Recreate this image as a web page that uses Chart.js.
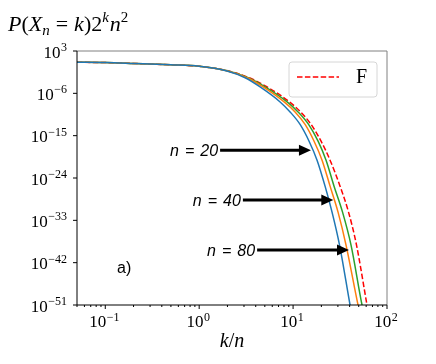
<!DOCTYPE html>
<html><head><meta charset="utf-8">
<script src="https://cdn.jsdelivr.net/npm/chart.js@4.4.1/dist/chart.umd.min.js"></script>
<style>html,body{margin:0;padding:0;background:#fff;}#wrap{width:436px;height:364px;}</style>
</head><body><div id="wrap"><canvas id="c" width="436" height="364"></canvas></div>
<script>
// ---- data ----
const yLevels = [3.98, 3.44, 2.22, 1.17, 0.564, 6.24e-2, 2.04e-3, 2.26e-5, 1.48e-8, 1.11e-10, 2.47e-13, 6.67e-17, 6.15e-21, 1.85e-26, 5.58e-32, 5.48e-39, 1e-51, 4.6e-54];
const xBlue   = [0.05, 0.1, 0.2, 0.5, 1, 1.938, 3.086, 4.457, 7.272, 9.292, 11.87, 14.80, 18.00, 21.90, 25.99, 31.24, 40.40, 42.44];
const xOrange = [0.05, 0.1, 0.2, 0.5, 1, 1.962, 3.241, 4.797, 8.023, 10.50, 13.42, 16.73, 20.35, 24.76, 30.11, 36.63, 49.14, 52.25];
const xGreen  = [0.05, 0.1, 0.2, 0.5, 1, 1.986, 3.321, 5.036, 8.636, 11.30, 14.62, 18.45, 22.44, 27.30, 33.62, 41.40, 54.20, 57.62];
const xF      = [0.05, 0.1, 0.2, 0.5, 1, 2.010, 3.404, 5.289, 9.179, 12.02, 15.54, 19.86, 24.76, 31.62, 38.94, 47.36, 61.26, 64.35];
const legendLabel = 'F';
const xTickValues = [0.1, 1, 10, 100];
const xTickExps = ['\u22121', '0', '1', '2'];
const yTickValues = [1e3, 1e-6, 1e-15, 1e-24, 1e-33, 1e-42, 1e-51];
const yTickExps = ['3', '\u22126', '\u221215', '\u221224', '\u221233', '\u221242', '\u221251'];
const arrowNs = ['20', '40', '80'];
const arrowY = [8e-19, 2e-29, 5e-40];
const arrowFrom = [1.67, 2.92, 4.14];
const arrowTo = [15.5, 26.8, 39.4];
const panelLabel = 'a)';

const SERIF = '"Liberation Serif", "DejaVu Serif", serif';
const SANS = '"Liberation Sans", Arial, sans-serif';

function pts(xs){ return xs.map((x,i)=>({x:x, y:yLevels[i]})); }

function drawPow(ctx, exp, x, baseline, align, big, small){
  ctx.font = big + 'px ' + SERIF;
  const w1 = ctx.measureText('10').width;
  ctx.font = small + 'px ' + SERIF;
  const w2 = ctx.measureText(exp).width;
  const tot = w1 + w2 + 0.5;
  let x0 = align === 'right' ? x - tot : x - tot/2;
  ctx.textAlign = 'left'; ctx.textBaseline = 'alphabetic';
  ctx.font = big + 'px ' + SERIF;
  ctx.fillText('10', x0, baseline);
  ctx.font = small + 'px ' + SERIF;
  ctx.fillText(exp, x0 + w1 + 0.5, baseline - 6.5);
}

function runsWidth(ctx, runs, fam){
  let w = 0;
  for (const r of runs){ ctx.font = (r.it ? 'italic ' : '') + r.s + 'px ' + fam; w += ctx.measureText(r.t).width + (r.gap||0); }
  return w;
}
function drawRuns(ctx, runs, x, baseline, fam){
  ctx.textAlign = 'left'; ctx.textBaseline = 'alphabetic';
  let cx = x;
  for (const r of runs){
    ctx.font = (r.it ? 'italic ' : '') + r.s + 'px ' + fam;
    ctx.fillText(r.t, cx, baseline - (r.dy||0));
    cx += ctx.measureText(r.t).width + (r.gap||0);
  }
  return cx - x;
}

const deco = {
  id: 'deco',
  afterDatasetsDraw(chart){
    const ctx = chart.ctx, xs = chart.scales.x, ys = chart.scales.y;
    ctx.save();
    for (let i=0;i<arrowNs.length;i++){
      const y = ys.getPixelForValue(arrowY[i]);
      const x1 = xs.getPixelForValue(arrowFrom[i]);
      const x2 = xs.getPixelForValue(arrowTo[i]);
      const hl = 12, hw = 5.5;
      ctx.strokeStyle = '#000'; ctx.fillStyle = '#000'; ctx.lineWidth = 3;
      ctx.beginPath(); ctx.moveTo(x1, y); ctx.lineTo(x2 - hl + 1, y); ctx.stroke();
      ctx.beginPath(); ctx.moveTo(x2, y); ctx.lineTo(x2 - hl, y - hw); ctx.lineTo(x2 - hl, y + hw); ctx.closePath(); ctx.fill();
      const runs = [{t:'n',it:true,s:16,gap:6},{t:'=',it:true,s:16,gap:6},{t:arrowNs[i],it:true,s:16}];
      const w = runsWidth(ctx, runs, SANS);
      drawRuns(ctx, runs, x1 - 2 - w, y + 6, SANS);
    }
    ctx.restore();
  },
  afterDraw(chart){
    const ctx = chart.ctx, ca = chart.chartArea, xs = chart.scales.x, ys = chart.scales.y;
    ctx.save();
    // spines
    ctx.lineWidth = 1;
    ctx.strokeStyle = '#808080';
    ctx.beginPath(); ctx.moveTo(ca.left, ca.top); ctx.lineTo(ca.right, ca.top); ctx.lineTo(ca.right, ca.bottom); ctx.stroke();
    ctx.strokeStyle = '#000';
    ctx.beginPath(); ctx.moveTo(ca.left, ca.top); ctx.lineTo(ca.left, ca.bottom); ctx.lineTo(ca.right, ca.bottom); ctx.stroke();
    // y ticks
    ctx.fillStyle = '#000';
    yTickValues.forEach((v,i)=>{
      const py = ys.getPixelForValue(v);
      ctx.beginPath(); ctx.moveTo(ca.left - 4, py); ctx.lineTo(ca.left, py); ctx.stroke();
      drawPow(ctx, yTickExps[i], ca.left - 10, py + 6.6, 'right', 17, 12);
    });
    // x ticks major + minor
    for (let d=-2; d<=2; d++){
      for (let m=1; m<=9; m++){
        const v = m * Math.pow(10, d);
        if (v < xs.min*0.999 || v > xs.max*1.001) continue;
        const px = xs.getPixelForValue(v);
        const len = m === 1 ? 4 : 2;
        ctx.beginPath(); ctx.moveTo(px, ca.bottom); ctx.lineTo(px, ca.bottom + len); ctx.stroke();
      }
    }
    xTickValues.forEach((v,i)=>{
      const px = xs.getPixelForValue(v);
      drawPow(ctx, xTickExps[i], px - 1, ca.bottom + 22, 'center', 17, 12);
    });
    // x label
    const xl = [{t:'k',it:true,s:20},{t:'/',s:20},{t:'n',it:true,s:20}];
    const wxl = runsWidth(ctx, xl, SERIF);
    drawRuns(ctx, xl, (ca.left + ca.right)/2 - wxl/2, ca.bottom + 42, SERIF);
    // title
    const tl = [
      {t:'P',it:true,s:22},{t:'(',s:22},{t:'X',it:true,s:22},{t:'n',it:true,s:15,dy:-4,gap:6},
      {t:'=',s:22,gap:6},{t:'k',it:true,s:22},{t:')2',s:22},{t:'k',it:true,s:15,dy:9,gap:1},
      {t:'n',it:true,s:22},{t:'2',s:15,dy:9}
    ];
    drawRuns(ctx, tl, 8, 31, SERIF);
    // panel label
    ctx.font = '16px ' + SANS; ctx.textAlign = 'left'; ctx.textBaseline = 'middle';
    ctx.fillText(panelLabel, 117, 268.5);
    // legend
    const lx = 289, ly = 62, lw = 88, lh = 35, r = 3;
    ctx.fillStyle = 'rgba(255,255,255,0.85)';
    ctx.strokeStyle = '#d6d6d6'; ctx.lineWidth = 1;
    ctx.beginPath();
    ctx.moveTo(lx + r, ly); ctx.lineTo(lx + lw - r, ly); ctx.quadraticCurveTo(lx + lw, ly, lx + lw, ly + r);
    ctx.lineTo(lx + lw, ly + lh - r); ctx.quadraticCurveTo(lx + lw, ly + lh, lx + lw - r, ly + lh);
    ctx.lineTo(lx + r, ly + lh); ctx.quadraticCurveTo(lx, ly + lh, lx, ly + lh - r);
    ctx.lineTo(lx, ly + r); ctx.quadraticCurveTo(lx, ly, lx + r, ly); ctx.closePath();
    ctx.fill(); ctx.stroke();
    const ds = chart.data.datasets[3];
    ctx.strokeStyle = ds.borderColor; ctx.lineWidth = ds.borderWidth; ctx.setLineDash(ds.borderDash);
    ctx.beginPath(); ctx.moveTo(297, 77); ctx.lineTo(339, 77); ctx.stroke();
    ctx.setLineDash([]);
    ctx.fillStyle = '#000';
    ctx.font = '20px ' + SERIF; ctx.textAlign = 'left'; ctx.textBaseline = 'middle';
    ctx.fillText(ds.label, 356, 78);
    ctx.restore();
  }
};

const common = {showLine:true, pointRadius:0, borderWidth:1.5, fill:false, cubicInterpolationMode:'monotone'};
new Chart(document.getElementById('c').getContext('2d'), {
  type: 'scatter',
  data: { datasets: [
    Object.assign({label:'blue', data: pts(xBlue), borderColor:'#1f77b4'}, common),
    Object.assign({label:'orange', data: pts(xOrange), borderColor:'#ff7f0e'}, common),
    Object.assign({label:'green', data: pts(xGreen), borderColor:'#2ca02c'}, common),
    Object.assign({label:legendLabel, data: pts(xF), borderColor:'#ff0000', borderDash:[5.5,2.4]}, common)
  ]},
  options: {
    responsive:false, animation:false, devicePixelRatio:1,
    layout:{padding:{left:0, top:51, right:49, bottom:0}},
    plugins:{legend:{display:false}, tooltip:{enabled:false}, title:{display:false}},
    scales:{
      x:{type:'logarithmic', min:0.05, max:100, grid:{display:false}, border:{display:false}, ticks:{display:false}, afterFit(s){ s.height = 59; }},
      y:{type:'logarithmic', min:1e-51, max:1e3, grid:{display:false}, border:{display:false}, ticks:{display:false}, afterFit(s){ s.width = 77; }}
    }
  },
  plugins:[deco]
});
</script>
</body></html>
